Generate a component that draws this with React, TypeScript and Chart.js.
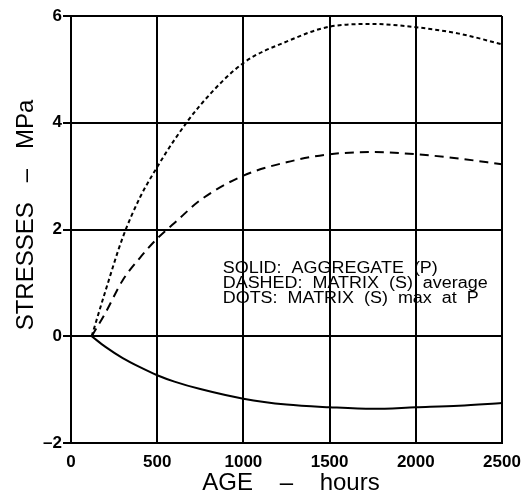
import React, { useEffect, useRef } from "react";
import { Chart, registerables } from "chart.js";

Chart.register(...registerables);

const ageHours = [120, 200, 300, 400, 500, 600, 750, 1000, 1250, 1500, 1750, 2000, 2250, 2500];
const aggregateP = [0, -0.2, -0.41, -0.58, -0.73, -0.85, -0.99, -1.17, -1.28, -1.33, -1.36, -1.33, -1.3, -1.25];
const matrixAverage = [0, 0.44, 1.05, 1.47, 1.83, 2.12, 2.55, 3.01, 3.26, 3.41, 3.45, 3.41, 3.33, 3.22];
const matrixMaxAtP = [0, 0.85, 1.85, 2.6, 3.17, 3.68, 4.33, 5.12, 5.52, 5.8, 5.85, 5.79, 5.67, 5.47];

const xTicks = [0, 500, 1000, 1500, 2000, 2500];
const yTicks = [-2, 0, 2, 4, 6];

const legendLines = [
  "SOLID:  AGGREGATE  (P)",
  "DASHED:  MATRIX  (S)  average",
  "DOTS:  MATRIX  (S)  max  at  P",
];
const xTitle = "AGE    \u2013    hours";
const yTitle = "STRESSES   \u2013   MPa";

const toPts = (ys: number[]) => ageHours.map((x, i) => ({ x, y: ys[i] }));

const textPlugin = {
  id: "textPlugin",
  afterDraw(chart: any) {
    const ctx = chart.ctx;
    const xs = chart.scales.x;
    const ys = chart.scales.y;
    ctx.save();
    ctx.fillStyle = "#000";
    ctx.font = '16px "Liberation Sans", Arial, sans-serif';
    ctx.textBaseline = "alphabetic";
    ctx.textAlign = "left";
    const lx = xs.getPixelForValue(880);
    const ly = ys.getPixelForValue(1.18);
    const w = ctx.measureText(legendLines[1]).width;
    const sx = 265 / w;
    legendLines.forEach((t, i) => {
      ctx.save();
      ctx.translate(lx, ly + i * 15);
      ctx.scale(sx, 1);
      ctx.fillText(t, 0, 0);
      ctx.restore();
    });
    ctx.font = '24px "Liberation Sans", Arial, sans-serif';
    ctx.textAlign = "center";
    ctx.fillText(xTitle, 291, 490);
    ctx.save();
    ctx.translate(33, 215);
    ctx.rotate(-Math.PI / 2);
    ctx.fillText(yTitle, 0, 0);
    ctx.restore();
    ctx.restore();
  },
};

const tickFont = { family: '"Liberation Sans", Arial, sans-serif', size: 17, weight: "bold" as const };

export default function App() {
  const ref = useRef<HTMLCanvasElement>(null);
  useEffect(() => {
    document.body.style.margin = "0";
    const lineBase = {
      borderColor: "#000",
      borderWidth: 2,
      pointRadius: 0,
      fill: false,
      cubicInterpolationMode: "monotone" as const,
    };
    const chart = new Chart(ref.current!, {
      type: "line",
      data: {
        datasets: [
          { ...lineBase, label: "SOLID: AGGREGATE (P)", data: toPts(aggregateP) },
          { ...lineBase, label: "DASHED: MATRIX (S) average", data: toPts(matrixAverage), borderDash: [9, 6] },
          { ...lineBase, label: "DOTS: MATRIX (S) max at P", data: toPts(matrixMaxAtP), borderDash: [4, 3] },
        ],
      },
      options: {
        responsive: false,
        animation: false,
        layout: { padding: { top: 16, right: 28, left: 0, bottom: 0 } },
        plugins: { legend: { display: false }, tooltip: { enabled: false } },
        scales: {
          x: {
            type: "linear",
            min: 0,
            max: 2500,
            afterBuildTicks: (s: any) => {
              s.ticks = xTicks.map((v) => ({ value: v }));
            },
            afterFit: (s: any) => {
              s.height = 49;
            },
            grid: { color: "#000", lineWidth: 2, drawTicks: false },
            border: { color: "#000", width: 2 },
            ticks: {
              color: "#000",
              padding: 9,
              maxRotation: 0,
              callback: (v: any) => String(v),
              font: tickFont,
            },
          },
          y: {
            type: "linear",
            min: -2,
            max: 6,
            afterBuildTicks: (s: any) => {
              s.ticks = yTicks.map((v) => ({ value: v }));
            },
            afterFit: (s: any) => {
              s.width = 71;
            },
            grid: { color: "#000", lineWidth: 2, tickLength: 8 },
            border: { color: "#000", width: 2 },
            ticks: {
              color: "#000",
              padding: 1,
              callback: (v: any) => (Number(v) < 0 ? "\u2013" + Math.abs(Number(v)) : String(v)),
              font: tickFont,
            },
          },
        },
      },
      plugins: [textPlugin],
    });
    return () => chart.destroy();
  }, []);
  return (
    <div style={{ position: "absolute", left: 0, top: 0, background: "#fff" }}>
      <canvas ref={ref} width={530} height={492} />
    </div>
  );
}
